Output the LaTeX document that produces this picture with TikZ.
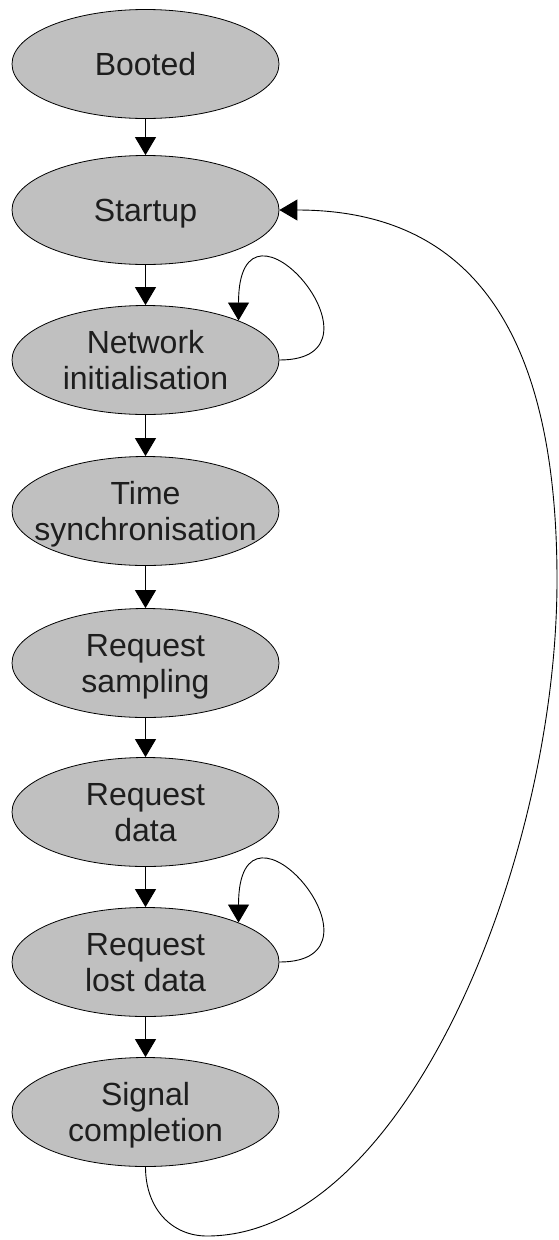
\documentclass[tikz,border=0pt]{standalone}
\usepackage{fontspec}
\setmainfont{Liberation Sans}
\usetikzlibrary{arrows.meta,shapes.geometric}
\definecolor{statefill}{HTML}{C0C0C0}
\definecolor{statetext}{HTML}{1E1E1E}
\tikzset{
  statelabel/.style={align=center, text=statetext, inner sep=0pt,
    font=\fontsize{32}{36}\selectfont, text depth=0pt},
  state/.style={ellipse, draw=black, line width=0.8pt, fill=statefill,
    minimum width=267pt, minimum height=109pt, inner sep=0pt,
    label={[statelabel]center:{#1}}},
  flow/.style={draw=black, line width=0.9pt,
    -{Triangle[width=21pt,length=18pt]}},
}
\begin{document}
\begin{tikzpicture}[x=1pt,y=1pt]
\useasboundingbox (0,0) rectangle (558,-1240);

% states, top to bottom
\node[state={Booted}]                       (boot)  at (145.5,-64)   {};
\node[state={Startup}]                      (start) at (145.5,-210)  {};
\node[state={Network\\initialisation}]      (net)   at (145.5,-360)  {};
\node[state={Time\\synchronisation}]        (sync)  at (145.5,-511)  {};
\node[state={Request\\sampling}]            (samp)  at (145.5,-663)  {};
\node[state={Request\\data}]                (data)  at (145.5,-812)  {};
\node[state={Request\\lost data}]           (lost)  at (145.5,-962)  {};
\node[state={Signal\\completion}]           (sig)   at (145.5,-1112) {};

% main sequence
\draw[flow] (boot)  -- (start);
\draw[flow] (start) -- (net);
\draw[flow] (net)   -- (sync);
\draw[flow] (sync)  -- (samp);
\draw[flow] (samp)  -- (data);
\draw[flow] (data)  -- (lost);
\draw[flow] (lost)  -- (sig);

% retries
\draw[flow] (net.east)  .. controls +(120,0) and +(0,150) .. (net.23);
\draw[flow] (lost.east) .. controls +(120,0) and +(0,150) .. (lost.23);

% restart after completion
\draw[flow] (sig.south) .. controls +(0,-42) and (172,-1236) .. (207,-1236)
  .. controls (405,-1236) and (557,-860) .. (557,-580)
  .. controls (557,-330) and (470,-210) .. (start.east);
\end{tikzpicture}
\end{document}
